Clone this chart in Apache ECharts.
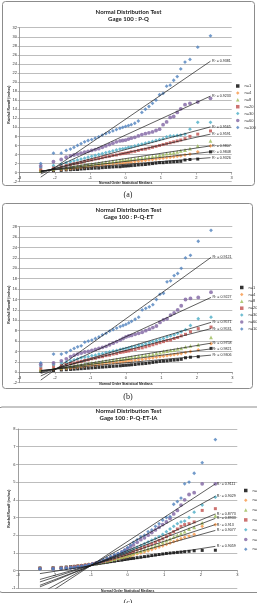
<!DOCTYPE html>
<html>
<head>
<meta charset="utf-8">
<script src="https://cdn.jsdelivr.net/npm/echarts@6.0.0/dist/echarts.min.js"></script>
<style>
html, body { margin: 0; padding: 0; background: #fff; }
#chart { width: 257px; height: 603px; }
</style>
</head>
<body>
<div id="chart"></div>
<script>
// normal order statistic medians (shared x positions)
const orderMedians = [-2.4, -2.04, -1.82, -1.68, -1.56, -1.46, -1.36, -1.26, -1.16, -1.06, -0.96, -0.86, -0.76, -0.66, -0.56, -0.46, -0.36, -0.26, -0.16, -0.08, 0, 0.08, 0.16, 0.26, 0.36, 0.46, 0.56, 0.66, 0.76, 0.86, 0.96, 1.06, 1.16, 1.26, 1.36, 1.46, 1.56, 1.68, 1.82, 2.04, 2.4]

const groupNames = ["n=1", "n=4", "n=8", "n=20", "n=30", "n=60", "n=100"]
const groupColors = ["#000000", "#F79646", "#9BBB59", "#C0504D", "#4BACC6", "#8064A2", "#4F81BD"]
const groupSymbols = ["rect", "diamond", "triangle", "rect", "diamond", "circle", "diamond"]

// (a) P-Q
const pq_n1 = [0.3, 0.45, 0.5, 0.6, 0.65, 0.7, 0.7, 0.8, 0.85, 0.9, 0.95, 1.0, 1.0, 1.1, 1.15, 1.2, 1.25, 1.3, 1.3, 1.4, 1.45, 1.5, 1.55, 1.6, 1.7, 1.75, 1.8, 1.9, 2.0, 2.1, 2.2, 2.2, 2.3, 2.35, 2.4, 2.45, 2.5, 2.8, 2.9, 3.0, 4.6]
const pq_n4 = [0.4, 0.6, 0.7, 0.8, 0.9, 1.0, 1.1, 1.2, 1.3, 1.4, 1.5, 1.5, 1.6, 1.7, 1.8, 1.9, 1.9, 2.0, 2.1, 2.1, 2.2, 2.3, 2.3, 2.4, 2.5, 2.6, 2.7, 2.8, 2.9, 3.0, 3.1, 3.2, 3.3, 3.4, 3.5, 3.6, 3.7, 3.9, 4.1, 4.6, 5.9]
const pq_n8 = [0.5, 0.8, 1.0, 1.1, 1.3, 1.4, 1.5, 1.6, 1.7, 1.8, 1.9, 2.0, 2.1, 2.2, 2.3, 2.4, 2.5, 2.6, 2.7, 2.8, 2.8, 2.9, 3.0, 3.1, 3.2, 3.3, 3.4, 3.5, 3.6, 3.7, 3.9, 4.0, 4.2, 4.3, 4.4, 4.6, 4.8, 5.0, 5.3, 5.9, 7.0]
const pq_n20 = [0.8, 1.1, 1.4, 1.6, 1.8, 2.0, 2.1, 2.3, 2.5, 2.7, 2.8, 3.0, 3.1, 3.3, 3.5, 3.6, 3.8, 3.9, 4.1, 4.2, 4.3, 4.4, 4.6, 4.7, 4.9, 5.1, 5.2, 5.4, 5.6, 5.8, 6.0, 6.2, 6.4, 6.6, 6.8, 7.0, 7.2, 7.5, 8.0, 8.5, 9.2]
const pq_n30 = [1.2, 1.6, 1.9, 2.2, 2.4, 2.6, 2.8, 3.0, 3.2, 3.4, 3.6, 3.8, 4.0, 4.2, 4.4, 4.6, 4.8, 5.0, 5.2, 5.3, 5.4, 5.6, 5.7, 5.9, 6.1, 6.3, 6.5, 6.7, 6.9, 7.1, 7.3, 7.5, 7.9, 8.1, 8.1, 8.2, 8.3, 8.5, 9.6, 11.1, 11.1]
const pq_n60 = [1.5, 2.4, 2.9, 3.4, 3.7, 3.9, 4.1, 4.3, 4.5, 4.7, 4.9, 5.1, 5.3, 5.6, 5.9, 6.2, 6.5, 6.8, 7.0, 7.1, 7.2, 7.4, 7.6, 7.8, 8.1, 8.4, 8.6, 8.8, 9.0, 9.3, 9.6, 10.6, 11.2, 12.2, 12.4, 13.3, 14.1, 15.0, 15.3, 15.6, 16.4]
const pq_n100 = [2.0, 4.3, 4.3, 4.9, 5.2, 5.6, 6.0, 6.4, 6.8, 7.1, 7.3, 7.6, 7.9, 8.3, 8.6, 8.9, 9.2, 9.5, 9.8, 10.0, 10.2, 10.4, 10.6, 10.9, 11.4, 13.3, 14.0, 14.6, 15.3, 16.0, 17.2, 17.5, 19.1, 19.3, 20.4, 21.2, 22.9, 24.4, 25.0, 27.7, 30.2]
const pq_trendStart = [0.4, 0.35, 0.3, 0.2, 0.1, -0.3, -1.0]
const pq_trendEnd = [3.3, 4.6, 5.9, 8.5, 10.1, 16.9, 24.6]
const pq_r2 = ["0.9326", "0.9848", "0.9807", "0.9591", "0.9565", "0.9233", "0.9381"]

// (b) P-Q-ET
const pqet_n1 = [0.2, 0.35, 0.45, 0.5, 0.55, 0.6, 0.65, 0.7, 0.75, 0.8, 0.85, 0.9, 0.95, 1.0, 1.05, 1.1, 1.15, 1.2, 1.25, 1.3, 1.35, 1.4, 1.45, 1.5, 1.6, 1.65, 1.7, 1.8, 1.9, 2.0, 2.1, 2.15, 2.2, 2.3, 2.35, 2.4, 2.5, 2.8, 2.9, 3.0, 4.6]
const pqet_n4 = [0.4, 0.55, 0.65, 0.75, 0.85, 0.95, 1.0, 1.1, 1.2, 1.3, 1.4, 1.4, 1.5, 1.6, 1.7, 1.8, 1.8, 1.9, 2.0, 2.0, 2.1, 2.2, 2.2, 2.3, 2.4, 2.5, 2.6, 2.7, 2.8, 2.9, 3.0, 3.1, 3.2, 3.3, 3.4, 3.5, 3.6, 3.8, 4.0, 4.3, 5.5]
const pqet_n8 = [0.5, 0.8, 0.9, 1.0, 1.2, 1.3, 1.4, 1.5, 1.6, 1.7, 1.8, 1.9, 2.0, 2.1, 2.2, 2.3, 2.4, 2.5, 2.6, 2.6, 2.7, 2.8, 2.9, 3.0, 3.1, 3.2, 3.3, 3.4, 3.5, 3.7, 3.8, 4.0, 4.1, 4.2, 4.3, 4.5, 4.6, 4.9, 5.1, 5.3, 6.7]
const pqet_n20 = [0.8, 1.1, 1.3, 1.5, 1.7, 1.8, 2.0, 2.1, 2.3, 2.4, 2.6, 2.7, 2.9, 3.0, 3.2, 3.3, 3.5, 3.6, 3.8, 3.9, 4.0, 4.1, 4.3, 4.4, 4.6, 4.7, 4.9, 5.1, 5.3, 5.5, 5.7, 5.9, 6.1, 6.2, 6.5, 6.7, 7.0, 7.3, 7.8, 8.4, 8.7]
const pqet_n30 = [1.2, 1.5, 1.8, 2.0, 2.2, 2.4, 2.6, 2.8, 2.9, 3.0, 3.2, 3.3, 3.5, 3.6, 3.8, 3.9, 4.1, 4.2, 4.4, 4.5, 4.6, 4.7, 4.9, 5.0, 5.2, 5.3, 5.5, 5.7, 5.9, 6.1, 6.3, 6.5, 6.8, 7.0, 7.2, 7.5, 7.8, 8.2, 9.0, 10.3, 10.6]
const pqet_n60 = [1.5, 1.8, 2.2, 2.6, 3.0, 3.3, 3.5, 3.7, 3.9, 4.0, 4.2, 4.4, 4.6, 4.8, 5.0, 5.3, 5.6, 5.9, 6.2, 6.5, 6.8, 7.0, 7.1, 7.3, 7.5, 7.7, 8.0, 8.3, 8.6, 8.9, 9.6, 10.1, 10.3, 11.0, 11.4, 12.0, 12.8, 14.0, 14.2, 14.4, 15.4]
const pqet_n100 = [1.8, 3.5, 3.5, 3.8, 4.2, 4.6, 4.9, 5.1, 5.8, 6.0, 6.2, 6.5, 6.8, 7.2, 7.5, 7.9, 8.2, 8.5, 8.8, 9.0, 9.2, 9.5, 9.8, 10.2, 10.6, 12.0, 12.3, 12.6, 13.0, 14.0, 15.0, 15.2, 17.4, 17.6, 18.6, 19.0, 20.0, 22.0, 22.5, 25.2, 27.3]
const pqet_trendStart = [0.35, 0.3, 0.2, 0.0, -0.2, -0.7, -1.5]
const pqet_trendEnd = [3.3, 4.5, 5.6, 8.4, 9.6, 14.4, 22.1]
const pqet_r2 = ["0.9306", "0.9821", "0.9758", "0.9531", "0.9571", "0.9227", "0.9121"]

// (c) P-Q-ET-IA
const pqetia_n1 = [0.15, 0.16, 0.18, 0.2, 0.22, 0.24, 0.26, 0.28, 0.3, 0.33, 0.36, 0.39, 0.42, 0.45, 0.48, 0.51, 0.54, 0.57, 0.6, 0.63, 0.66, 0.68, 0.7, 0.73, 0.76, 0.79, 0.82, 0.85, 0.88, 0.91, 0.94, 0.97, 0.99, 1.01, 1.03, 1.05, 1.07, 1.09, 1.12, 1.14, 1.15]
const pqetia_n4 = [0.14, 0.15, 0.17, 0.19, 0.21, 0.24, 0.27, 0.3, 0.33, 0.36, 0.39, 0.42, 0.45, 0.49, 0.53, 0.57, 0.62, 0.67, 0.72, 0.76, 0.8, 0.84, 0.89, 0.94, 1.0, 1.06, 1.12, 1.19, 1.26, 1.33, 1.4, 1.48, 1.56, 1.64, 1.72, 1.8, 1.88, 1.95, 2.05, 2.5, 2.6]
const pqetia_n8 = [0.13, 0.14, 0.16, 0.18, 0.2, 0.23, 0.26, 0.29, 0.32, 0.35, 0.38, 0.41, 0.45, 0.49, 0.54, 0.59, 0.64, 0.7, 0.76, 0.81, 0.86, 0.91, 0.97, 1.04, 1.1, 1.17, 1.25, 1.33, 1.42, 1.51, 1.6, 1.7, 1.8, 1.9, 2.0, 2.1, 2.2, 2.35, 2.45, 2.7, 3.1]
const pqetia_n20 = [0.12, 0.13, 0.15, 0.17, 0.19, 0.22, 0.25, 0.28, 0.31, 0.34, 0.38, 0.42, 0.47, 0.52, 0.58, 0.64, 0.7, 0.77, 0.84, 0.9, 0.96, 1.02, 1.09, 1.17, 1.25, 1.33, 1.42, 1.5, 1.6, 1.7, 1.8, 1.92, 2.05, 2.2, 2.35, 2.5, 2.6, 2.65, 2.75, 3.4, 3.5]
const pqetia_n30 = [0.11, 0.12, 0.14, 0.16, 0.18, 0.2, 0.23, 0.26, 0.3, 0.34, 0.38, 0.43, 0.49, 0.55, 0.62, 0.7, 0.78, 0.86, 0.94, 1.0, 1.08, 1.15, 1.23, 1.32, 1.42, 1.52, 1.62, 1.72, 1.82, 1.92, 2.05, 2.2, 2.35, 2.5, 2.65, 2.75, 2.8, 3.0, 3.3, 3.7, 4.15]
const pqetia_n60 = [0.1, 0.11, 0.13, 0.14, 0.16, 0.18, 0.21, 0.24, 0.28, 0.32, 0.37, 0.43, 0.5, 0.58, 0.66, 0.75, 0.85, 0.95, 1.05, 1.15, 1.25, 1.35, 1.45, 1.6, 1.75, 1.85, 2.0, 2.15, 2.3, 2.45, 2.6, 2.75, 2.95, 3.2, 3.4, 3.7, 4.0, 4.3, 4.4, 4.9, 4.9]
const pqetia_n100 = [0.1, 0.1, 0.12, 0.13, 0.15, 0.17, 0.2, 0.23, 0.27, 0.31, 0.36, 0.42, 0.5, 0.6, 0.7, 0.8, 0.9, 0.97, 1.05, 1.15, 1.3, 1.45, 1.6, 1.75, 1.9, 2.0, 2.2, 2.3, 2.5, 2.65, 2.85, 3.0, 3.05, 3.75, 3.9, 4.1, 4.9, 5.0, 5.5, 6.1, 7.4]
const pqetia_trendStart = [-0.17, -0.5, -0.64, -0.83, -0.92, -1.3, -1.6]
const pqetia_trendEnd = [1.37, 2.27, 2.6, 2.95, 3.2, 4.2, 4.9]
const pqetia_r2 = ["0.9059", "0.9077", "0.913", "0.8933", "0.8773", "0.9029", "0.9111"]

const smallFont = "Liberation Sans"
const last = orderMedians.length - 1

// panel frames: plot box in pixels and y range, the x axis sits on y = 0
const panelGrids = [
    { left: 16.7, top: 27.7, width: 215, height: 154 },
    { left: 16.7, top: 226.7, width: 215.6, height: 156 },
    { left: 10, top: 429, width: 227.3, height: 159.3 },
]
const panelYMin = [-2, -2, -1]
const panelYMax = [32, 28, 8]
const panelYStep = [2, 2, 1]

function panelSeries(p, values, starts, ends, r2) {
    const out = []
    values.forEach((ys, i) => {
        out.push({
            type: "scatter",
            name: groupNames[i],
            xAxisIndex: p,
            yAxisIndex: p,
            symbol: groupSymbols[i],
            symbolSize: groupSymbols[i] == "rect" ? 3 : 3.8,
            itemStyle: { color: groupColors[i] },
            data: orderMedians.map((x, k) => [x, ys[k]]),
            z: 2,
            silent: true,
        })
    })
    values.forEach((ys, i) => {
        out.push({
            type: "line",
            name: "trend" + p + "_" + i,
            xAxisIndex: p,
            yAxisIndex: p,
            showSymbol: false,
            symbol: "none",
            lineStyle: { color: "#1a1a1a", width: 0.7 },
            data: [
                [orderMedians[0], starts[i]],
                [orderMedians[last], ends[i]],
            ],
            endLabel: {
                show: true,
                formatter: "R² = " + r2[i],
                fontSize: 3.6,
                fontFamily: smallFont,
                color: "#222",
                distance: 1.5,
            },
            z: 3,
            silent: true,
        })
    })
    return out
}

function xAxisFor(p, nameGap, labelMargin) {
    // lift the axis from the plot bottom up to the y = 0 line
    const g = panelGrids[p]
    const zeroLift = (g.height * (0 - panelYMin[p])) / (panelYMax[p] - panelYMin[p])
    return {
        gridIndex: p,
        type: "value",
        min: -3,
        max: 3,
        interval: 1,
        position: "bottom",
        offset: -zeroLift,
        name: "Normal Order Statistical Medians",
        nameLocation: "middle",
        nameGap: nameGap,
        nameMoveOverlap: false,
        nameTextStyle: { fontSize: 3.4, fontWeight: "bold", fontFamily: smallFont, color: "#222", verticalAlign: "top" },
        axisLine: { onZero: false, lineStyle: { color: "#868686", width: 0.8 } },
        axisTick: { show: true, length: 2, lineStyle: { color: "#868686", width: 0.6 } },
        axisLabel: { fontSize: 4, fontFamily: smallFont, color: "#333", margin: labelMargin },
        splitLine: { show: false },
    }
}

function yAxisFor(p, nameGap) {
    return {
        gridIndex: p,
        type: "value",
        min: panelYMin[p],
        max: panelYMax[p],
        interval: panelYStep[p],
        name: "Rainfall Runoff (inches)",
        nameLocation: "middle",
        nameRotate: 90,
        nameGap: nameGap,
        nameMoveOverlap: false,
        nameTextStyle: { fontSize: 3.4, fontWeight: "bold", fontFamily: smallFont, color: "#222" },
        axisLine: { show: true, onZero: false, lineStyle: { color: "#868686", width: 0.8 } },
        axisTick: { show: true, length: 2, lineStyle: { color: "#868686", width: 0.6 } },
        axisLabel: { fontSize: 4, fontFamily: smallFont, color: "#333", margin: 2.5 },
        splitLine: { show: true, lineStyle: { color: "#bdbdbd", width: 1 } },
    }
}

function legendFor(left, top, gap) {
    return {
        orient: "vertical",
        left: left,
        top: top,
        padding: 0,
        itemWidth: 3.5,
        itemHeight: 3.5,
        itemGap: gap,
        data: groupNames,
        textStyle: { fontSize: 4, fontFamily: smallFont, color: "#333", lineHeight: 4 },
        selectedMode: false,
    }
}

function titleFor(sub, top) {
    return {
        text: "Normal Distribution Test\nGage 100 : " + sub,
        left: "center",
        top: top,
        padding: 0,
        textStyle: { fontSize: 6, lineHeight: 7.3, fontWeight: "bold", fontFamily: "Lato", color: "#1a1a1a" },
    }
}

const option = {
    animation: false,
    backgroundColor: "#fff",
    title: [titleFor("P-Q", 8.5), titleFor("P-Q-ET", 206.5), titleFor("P-Q-ET-IA", 407.5)],
    legend: [legendFor(236, 84, 2.9), legendFor(240, 285.5, 2.9), legendFor(244, 488.5, 5.8)],
    grid: panelGrids,
    xAxis: [xAxisFor(0, 9.4, 3.2), xAxisFor(1, 10.3, 3.2), xAxisFor(2, 19.4, 2.6)],
    yAxis: [yAxisFor(0, 8.5), yAxisFor(1, 8.5), yAxisFor(2, 7)],
    graphic: [
        { type: "rect", shape: { x: 2.5, y: 1.5, width: 252, height: 184, r: 3 }, style: { fill: "none", stroke: "#8c8c8c", lineWidth: 1 }, silent: true },
        { type: "rect", shape: { x: 2.5, y: 203.5, width: 250, height: 185, r: 3 }, style: { fill: "none", stroke: "#8c8c8c", lineWidth: 1 }, silent: true },
        { type: "rect", shape: { x: -1, y: 407, width: 262, height: 185.5, r: 3 }, style: { fill: "none", stroke: "#8c8c8c", lineWidth: 1 }, silent: true },
        { type: "text", x: 128, y: 195, style: { text: "(a)", fontSize: 8, fontFamily: "Liberation Serif", fill: "#222", textAlign: "center", textVerticalAlign: "middle" }, silent: true },
        { type: "text", x: 128, y: 397, style: { text: "(b)", fontSize: 8, fontFamily: "Liberation Serif", fill: "#222", textAlign: "center", textVerticalAlign: "middle" }, silent: true },
        { type: "text", x: 128, y: 603, style: { text: "(c)", fontSize: 8, fontFamily: "Liberation Serif", fill: "#222", textAlign: "center", textVerticalAlign: "middle" }, silent: true },
    ],
    series: [].concat(
        panelSeries(0, [pq_n1, pq_n4, pq_n8, pq_n20, pq_n30, pq_n60, pq_n100], pq_trendStart, pq_trendEnd, pq_r2),
        panelSeries(1, [pqet_n1, pqet_n4, pqet_n8, pqet_n20, pqet_n30, pqet_n60, pqet_n100], pqet_trendStart, pqet_trendEnd, pqet_r2),
        panelSeries(2, [pqetia_n1, pqetia_n4, pqetia_n8, pqetia_n20, pqetia_n30, pqetia_n60, pqetia_n100], pqetia_trendStart, pqetia_trendEnd, pqetia_r2)
    ),
}

const chart = echarts.init(document.getElementById("chart"), null, { renderer: "canvas" })
chart.setOption(option)
</script>
</body>
</html>
